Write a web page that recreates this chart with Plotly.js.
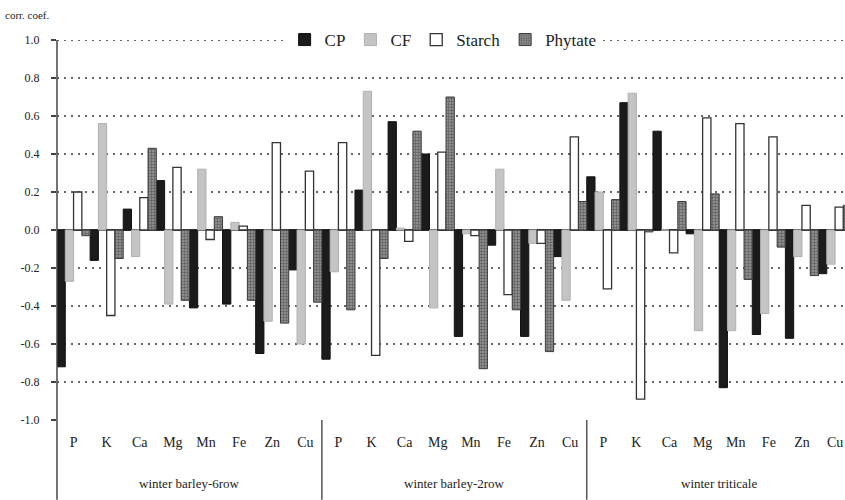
<!DOCTYPE html>
<html>
<head>
<meta charset="utf-8">
<script src="https://cdn.plot.ly/plotly-3.0.1.min.js"></script>
<style>html,body{margin:0;padding:0;background:#fff;}#chart{width:845px;height:500px;}</style>
</head>
<body>
<div id="chart"></div>
<script>
const groups = ["winter barley-6row", "winter barley-2row", "winter triticale"];
const elements = ["P", "K", "Ca", "Mg", "Mn", "Fe", "Zn", "Cu"];
const seriesNames = ["CP", "CF", "Starch", "Phytate"];

const CP = [-0.72, -0.16, 0.11, 0.26, -0.41, -0.39, -0.65, -0.21,
            -0.68, 0.21, 0.57, 0.40, -0.56, -0.08, -0.56, -0.14,
             0.28, 0.67, 0.52, -0.02, -0.83, -0.55, -0.57, -0.23];
const CF = [-0.27, 0.56, -0.14, -0.39, 0.32, 0.04, -0.48, -0.60,
            -0.22, 0.73, 0.01, -0.41, -0.02, 0.32, -0.07, -0.37,
             0.20, 0.72, 0.00, -0.53, -0.53, -0.44, -0.14, -0.18];
const Starch = [0.20, -0.45, 0.17, 0.33, -0.05, 0.02, 0.46, 0.31,
                0.46, -0.66, -0.06, 0.41, -0.03, -0.34, -0.07, 0.49,
               -0.31, -0.89, -0.12, 0.59, 0.56, 0.49, 0.13, 0.12];
const Phytate = [-0.03, -0.15, 0.43, -0.37, 0.07, -0.37, -0.49, -0.38,
                 -0.42, -0.15, 0.52, 0.70, -0.73, -0.42, -0.64, 0.15,
                  0.16, -0.01, 0.15, 0.19, -0.26, -0.09, -0.24, 0.13];
const yTicks = [-1.0, -0.8, -0.6, -0.4, -0.2, 0.0, 0.2, 0.4, 0.6, 0.8, 1.0];
const yTickLabels = ["-1.0", "-0.8", "-0.6", "-0.4", "-0.2", "0.0", "0.2", "0.4", "0.6", "0.8", "1.0"];

const xPos = [];
const xLabels = [];
groups.forEach((g, gi) => elements.forEach((e, ei) => { xPos.push(gi * elements.length + ei); xLabels.push(e); }));

const serif = "'Liberation Serif', 'DejaVu Serif', serif";
const gridDash = "2px,5px";

const traces = [
  {name: seriesNames[0], y: CP, marker: {color: "#1b1b1b", line: {color: "#111", width: 1}}},
  {name: seriesNames[1], y: CF, marker: {color: "#c4c4c4", line: {color: "#b0b0b0", width: 1}}},
  {name: seriesNames[2], y: Starch, marker: {color: "#ffffff", line: {color: "#333", width: 1.3}}},
  {name: seriesNames[3], y: Phytate, marker: {color: "#808080", line: {color: "#3a3a3a", width: 1},
     pattern: {shape: "+", fgcolor: "#555555", bgcolor: "#8c8c8c", size: 3, solidity: 0.3}}}
].map(t => Object.assign({type: "bar", x: xPos, hoverinfo: "skip"}, t));

const shapes = [
  {type: "line", xref: "paper", yref: "y", x0: 0, x1: 1, y0: yTicks[yTicks.length - 1], y1: yTicks[yTicks.length - 1],
   layer: "below", line: {color: "#666", width: 2, dash: gridDash}},
  {type: "line", xref: "paper", yref: "paper", x0: 0, x1: 0, y0: -0.21, y1: 1.0, line: {color: "#444", width: 1.5}},
  {type: "line", xref: "x", yref: "paper", x0: 7.5, x1: 7.5, y0: -0.21, y1: 0, line: {color: "#555", width: 1.5}},
  {type: "line", xref: "x", yref: "paper", x0: 15.5, x1: 15.5, y0: -0.21, y1: 0, line: {color: "#555", width: 1.5}}
];

const annotations = groups.map((g, gi) => ({
  text: g, xref: "x", yref: "paper", x: gi * elements.length + (elements.length - 1) / 2, y: -0.166,
  xanchor: "center", yanchor: "middle", showarrow: false, font: {family: serif, size: 13, color: "#222"}
}));
annotations.push({text: "corr. coef.", xref: "paper", yref: "paper", x: -0.068, y: 1.066,
  xanchor: "left", yanchor: "middle", showarrow: false, font: {family: serif, size: 11, color: "#222"}});

const layout = {
  width: 845, height: 500,
  margin: {l: 57, r: 0, t: 40, b: 80, pad: 0},
  paper_bgcolor: "#fff", plot_bgcolor: "#fff",
  font: {family: serif, color: "#222"},
  barmode: "group", bargap: 0, bargroupgap: 0,
  showlegend: true,
  legend: {orientation: "h", x: 0.49, xanchor: "center", y: 1.0, yanchor: "middle",
    bgcolor: "#fff", font: {family: serif, size: 17, color: "#222"}, itemwidth: 30, tracegroupgap: 0},
  xaxis: {range: [-0.5, 23.3], tickmode: "array", tickvals: xPos, ticktext: xLabels,
    showgrid: false, zeroline: false, showline: false, ticks: "",
    ticklabelstandoff: 12, tickfont: {family: serif, size: 14, color: "#222"}},
  yaxis: {range: [-1.0, 1.0], tickmode: "array", tickvals: yTicks, ticktext: yTickLabels,
    showgrid: true, gridcolor: "#666", griddash: gridDash, gridwidth: 2,
    zeroline: true, zerolinecolor: "#444", zerolinewidth: 1.5,
    showline: false, ticks: "outside", ticklen: 5, tickcolor: "#444", tickwidth: 1.5,
    ticklabelstandoff: 9, tickfont: {family: serif, size: 12, color: "#222"}},
  shapes: shapes, annotations: annotations
};

Plotly.newPlot("chart", traces, layout, {displayModeBar: false, staticPlot: true});
</script>
</body>
</html>
